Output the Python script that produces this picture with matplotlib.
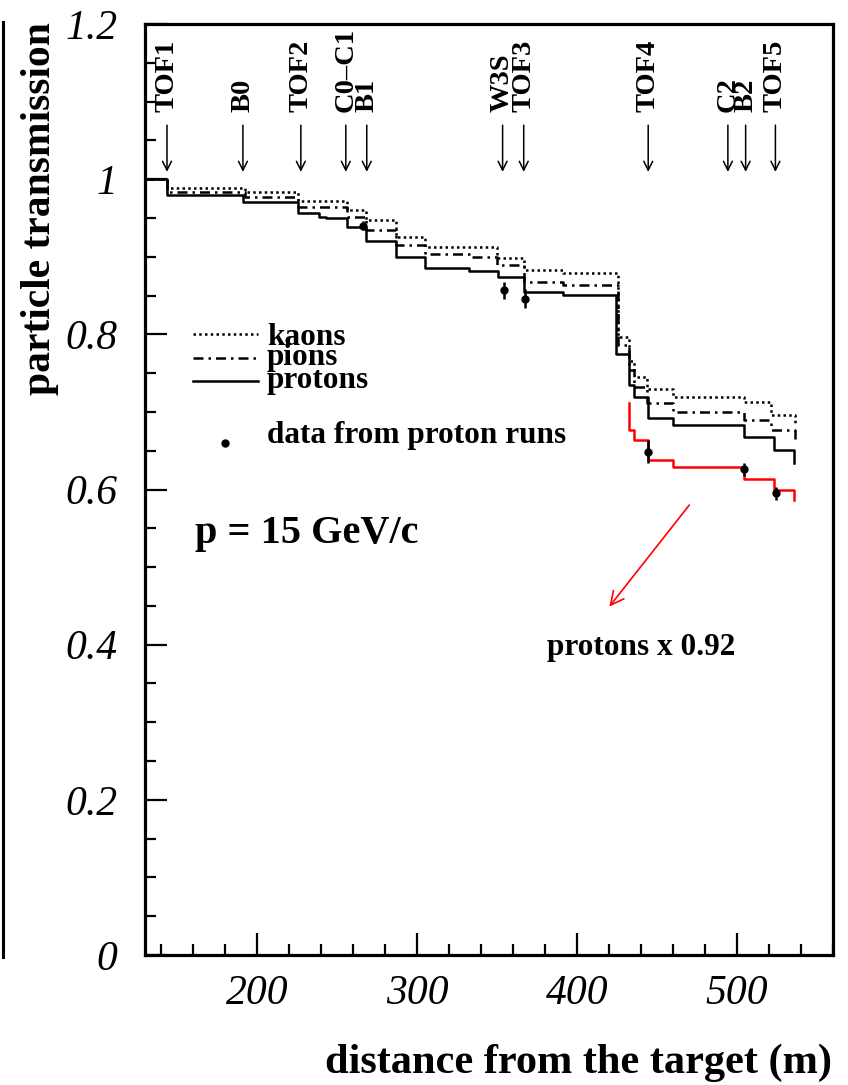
import matplotlib
matplotlib.use("Agg")
import matplotlib.pyplot as plt
from matplotlib.lines import Line2D
from matplotlib.ticker import MultipleLocator, FixedLocator

plt.rcParams['font.family'] = 'Liberation Serif'

# step edges (m) and transmission values
kaon_x = [130, 143.5, 192.7, 225.4, 256, 268, 287, 305, 350, 367, 391, 425.5, 432.7, 435.8, 444, 460, 504.6, 521, 536]
kaon_y = [1.0, 0.989, 0.983, 0.972, 0.960, 0.947, 0.925, 0.912, 0.898, 0.883, 0.879, 0.797, 0.765, 0.745, 0.730, 0.7195, 0.713, 0.696, 0.685]

pion_x = [130, 143.5, 192.7, 225.4, 256, 268, 287, 305, 333, 350, 367, 391, 425.5, 432.7, 435.8, 444, 460, 504.6, 521, 536]
pion_y = [1.0, 0.9835, 0.977, 0.964, 0.9506, 0.934, 0.915, 0.904, 0.900, 0.889, 0.868, 0.864, 0.786, 0.754, 0.732, 0.711, 0.700, 0.689, 0.6765, 0.660]

proton_x = [130, 143.5, 191.5, 225.4, 239, 243, 256, 268, 287, 305, 332.7, 350.4, 367, 391, 424.3, 432.7, 435.8, 444.1, 459.8, 504.6, 523.3, 535.8]
proton_y = [1.0, 0.980, 0.970, 0.956, 0.951, 0.950, 0.9386, 0.920, 0.900, 0.886, 0.882, 0.874, 0.855, 0.851, 0.775, 0.7345, 0.7195, 0.6916, 0.683, 0.668, 0.651, 0.634]

scaled_x = [432.7, 432.7, 435.8, 444.1, 459.8, 504.6, 523.3, 535.8]
scaled_y = [0.711, 0.6765, 0.6637, 0.638, 0.629, 0.614, 0.599, 0.586]

data_x = [266, 354.1, 367.5, 444.1, 504.6, 524.4]
data_y = [0.940, 0.857, 0.846, 0.6486, 0.626, 0.595]
data_err = [0.006, 0.011, 0.012, 0.015, 0.008, 0.008]

det_names = ["TOF1", "B0", "TOF2", "C0\u2013C1", "B1", "W3S", "TOF3", "TOF4", "C2", "B2", "TOF5"]
det_pos = [143.75, 191.2, 227.4, 255.5, 268.6, 353.5, 366.7, 444.5, 494.3, 505.4, 524]

fig = plt.figure(figsize=(8.48, 10.85), dpi=100)
ax = fig.add_axes([145/848, 130/1085, 688/848, 931/1085])

ax.step(kaon_x, kaon_y, where='post', color='k', lw=1.8, ls=(0, (1, 1.3)))
ax.step(pion_x, pion_y, where='post', color='k', lw=1.8, ls=(0, (4, 2, 1, 2)))
ax.step(proton_x, proton_y, where='post', color='k', lw=1.8)
ax.step(scaled_x, scaled_y, where='post', color='red', lw=1.8)
ax.errorbar(data_x, data_y, yerr=data_err, fmt='o', color='k', ms=5, elinewidth=1.8, capsize=0, zorder=5)

# detector arrows
for name, x in zip(det_names, det_pos):
    ax.annotate('', xy=(x, 1.0094), xytext=(x, 1.0696),
                arrowprops=dict(arrowstyle='->', color='k', lw=1.1, mutation_scale=16, shrinkA=0, shrinkB=0))
    ax.text(x, 1.0867, name, rotation=90, ha='center', va='bottom', fontsize=20.5, fontweight='bold')

# legend drawn by hand
ax.plot([0.0698, 0.1642], [0.667, 0.667], transform=ax.transAxes, color='k', lw=1.8, ls=(0, (1, 1.3)))
ax.plot([0.0698, 0.1642], [0.641, 0.641], transform=ax.transAxes, color='k', lw=1.8, ls=(0, (4, 2, 1, 2)))
ax.plot([0.0698, 0.1642], [0.6165, 0.6165], transform=ax.transAxes, color='k', lw=1.8)
ax.plot([0.1163], [0.550], 'o', color='k', ms=5, transform=ax.transAxes)
ax.text(0.177, 0.655, "kaons", transform=ax.transAxes, fontsize=22.5, fontweight='bold', va='baseline')
ax.text(0.177, 0.6337, "pions", transform=ax.transAxes, fontsize=22.5, fontweight='bold', va='baseline')
ax.text(0.177, 0.609, "protons", transform=ax.transAxes, fontsize=22.5, fontweight='bold', va='baseline')
ax.text(0.177, 0.550, "data from proton runs", transform=ax.transAxes, fontsize=22.5, fontweight='bold', va='baseline')

ax.text(0.0727, 0.4425, "p = 15 GeV/c", transform=ax.transAxes, fontsize=29, fontweight='bold', va='baseline')
ax.text(0.5839, 0.3222, "protons x 0.92", transform=ax.transAxes, fontsize=22.5, fontweight='bold', va='baseline')
ax.annotate('', xy=(420.2, 0.449), xytext=(470.2, 0.580),
            arrowprops=dict(arrowstyle='->', color='red', lw=1.2, mutation_scale=24, shrinkA=0, shrinkB=0))

ax.set_xlim(130, 560)
ax.set_ylim(0, 1.2)
ax.xaxis.set_major_locator(FixedLocator([200, 300, 400, 500]))
ax.xaxis.set_minor_locator(MultipleLocator(20))
ax.yaxis.set_major_locator(FixedLocator([0, 0.2, 0.4, 0.6, 0.8, 1.0, 1.2]))
ax.yaxis.set_minor_locator(MultipleLocator(0.05))
ax.set_yticklabels(["0", "0.2", "0.4", "0.6", "0.8", "1", "1.2"])
ax.tick_params(which='both', direction='in', top=False, right=False, width=1.6)
ax.tick_params(which='major', length=16)
ax.tick_params(which='minor', length=8)
ax.tick_params(axis='x', pad=14)
ax.tick_params(axis='y', pad=20)
for lab in ax.get_xticklabels() + ax.get_yticklabels():
    lab.set_fontsize(30)
    lab.set_fontstyle('italic')
for sp in ax.spines.values():
    sp.set_linewidth(2.3)

fig.text(832/848, 12/1085, "distance from the target (m)", ha='right', va='baseline', fontsize=30.5, fontweight='bold')
fig.text(40/848, 1 - 22/1085, "particle transmission", rotation=90, ha='center', va='top', fontsize=30, fontweight='bold')

# border line of the neighbouring panel at the left edge
fig.add_artist(Line2D([2.5/848, 2.5/848], [1 - 22/1085, 1 - 957/1085], color='k', lw=2.2))

fig.savefig("out.png", dpi=100)
